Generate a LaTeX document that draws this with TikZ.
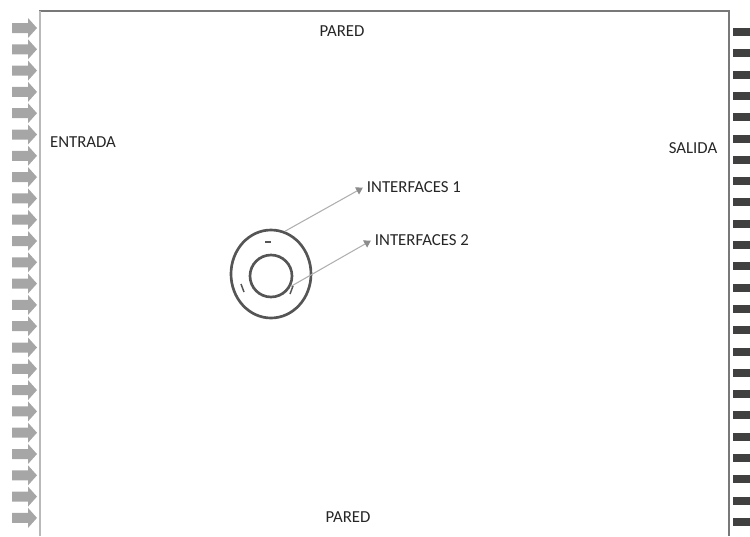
\documentclass[tikz,border=0pt]{standalone}
\usepackage{fontspec}
\setmainfont{Carlito}
\definecolor{wallgray}{RGB}{120, 120, 120}
\definecolor{inlgray}{RGB}{185, 185, 185}
\definecolor{inarrow}{RGB}{166, 166, 166}
\definecolor{outmark}{RGB}{64, 64, 64}
\definecolor{ringgray}{RGB}{85, 85, 85}
\definecolor{leadgray}{RGB}{175, 175, 175}
\definecolor{tipgray}{RGB}{140, 140, 140}
\usetikzlibrary{shapes.geometric, arrows.meta}

\begin{document}
\begin{tikzpicture}[
  x=0.75pt, y=-0.75pt,
  lbl/.style={font=\fontsize{12.6}{14}\selectfont, text=black!85, inner sep=2pt},
  ring/.style={draw=ringgray, line width=2pt, ellipse, inner sep=0pt},
  lead/.style={draw=leadgray, line width=0.8pt, -{Triangle[width=6pt, length=5pt, color=tipgray]}, shorten >=1pt},
  tick/.style={draw=ringgray, line width=1.1pt},
]
\useasboundingbox (0,0) rectangle (750,536);

% Walls
\draw[wallgray, line width=1.5pt] (40,536) -- (40,11) -- (729,11) -- (729,536);
\draw[inlgray, line width=1.5pt] (40,11) -- (40,536);

% Inflow arrows (left) and outflow marks (right)
\foreach \k in {0,...,23}{
  \pgfmathsetmacro{\ya}{28+21.3*\k}
  \pgfmathsetmacro{\yb}{32+21.3*\k}
  \fill[inarrow] (12,\ya-5) -- (28,\ya-5) -- (28,\ya-10) -- (37,\ya)
    -- (28,\ya+10) -- (28,\ya+5) -- (12,\ya+5) -- cycle;
  \fill[outmark] (733,\yb-4) rectangle (750,\yb+4);
}

% Labels
\node[lbl] (padtop) at (342,31) {PARED};
\node[lbl] (padbot) at (348,517) {PARED};
\node[lbl] (entr) at (83,142) {ENTRADA};
\node[lbl] (sal) at (693,148) {SALIDA};

% Particle
\node[ring, minimum width=60pt, minimum height=66pt] (outer) at (271,274) {};
\node[ring, circle, minimum size=31.5pt] (inner) at (271,276) {};
\draw[tick] (265,242) -- (271,242);
\draw[tick] (241,284) -- (244,292);
\draw[tick] (293,286) -- (290,294);

% Interfaces
\node[lbl, anchor=west] (if1) at (364,187) {INTERFACES 1};
\node[lbl, anchor=west] (if2) at (372,240) {INTERFACES 2};
\draw[lead] (outer.72) -- (if1.west);
\draw[lead] (inner.-28) -- (if2.west);
\end{tikzpicture}
\end{document}
